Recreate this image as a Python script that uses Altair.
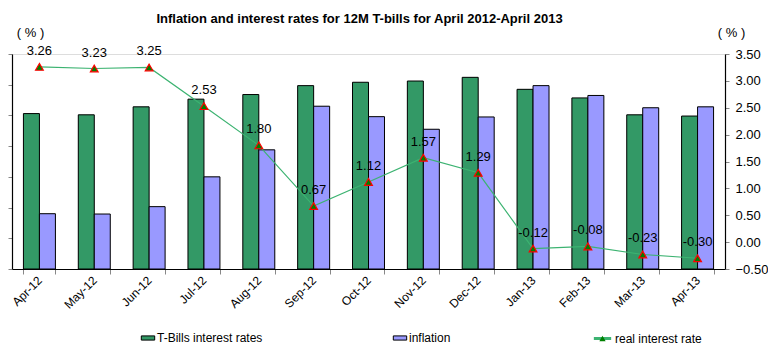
import altair as alt
import pandas as pd

months = ["Apr-12", "May-12", "Jun-12", "Jul-12", "Aug-12", "Sep-12", "Oct-12",
          "Nov-12", "Dec-12", "Jan-13", "Feb-13", "Mar-13", "Apr-13"]
tbills = [5.06, 5.02, 5.28, 5.53, 5.68, 5.97, 6.08, 6.12, 6.24, 5.85, 5.57, 5.02, 4.98]
inflation = [1.80, 1.79, 2.03, 3.00, 3.88, 5.30, 4.96, 4.55, 4.95, 5.97, 5.65, 5.25, 5.28]
real_rate = [3.26, 3.23, 3.25, 2.53, 1.80, 0.67, 1.12, 1.57, 1.29, -0.12, -0.08, -0.23, -0.30]
real_labels = ["3.26", "3.23", "3.25", "2.53", "1.80", "0.67", "1.12", "1.57", "1.29",
               "-0.12", "-0.08", "-0.23", "-0.30"]
right_ticks = [-0.5, 0, 0.5, 1, 1.5, 2, 2.5, 3, 3.5]

S1 = "T-Bills interest rates"
S2 = "inflation"
S3 = "real interest rate"
S4 = " "

bars_df = pd.DataFrame(
    [{"month": m, "series": S1, "value": v} for m, v in zip(months, tbills)]
    + [{"month": m, "series": S2, "value": v} for m, v in zip(months, inflation)]
)
line_df = pd.DataFrame({"month": months, "real": real_rate, "label": real_labels,
                        "series": S3, "series2": S4})

FONT = "Liberation Sans"
p = 0.417

x_enc = alt.X(
    "month:N", sort=months, title=None,
    scale=alt.Scale(paddingInner=p, paddingOuter=p / 2),
    axis=alt.Axis(labelAngle=-45, labelAlign="right", labelBaseline="middle",
                  labelFontSize=12, labelFont=FONT, labelColor="black",
                  labelPadding=4, tickBand="extent", tickSize=5,
                  tickColor="#888", domainColor="black", domainWidth=1.2),
)

y_left = alt.Y(
    "value:Q",
    scale=alt.Scale(domain=[0, 7], nice=False, zero=True),
    axis=alt.Axis(values=[0, 1, 2, 3, 4, 5, 6, 7], labelOpacity=0, tickSize=4,
                  tickColor="#888", domainColor="black", domainWidth=1.2,
                  grid=False, title="( % )", titleAngle=0, titleFont=FONT,
                  titleFontSize=13, titleFontWeight="normal", titleX=18, titleY=-15,
                  titleAlign="center"),
)

shadow = alt.Chart(bars_df).mark_bar(color="#7f7f7f", opacity=0.7, xOffset=2).encode(
    x=x_enc,
    xOffset=alt.XOffset("series:N", sort=[S1, S2]),
    y=y_left,
)

bars = alt.Chart(bars_df).mark_bar(stroke="black", strokeWidth=1).encode(
    x=x_enc,
    xOffset=alt.XOffset("series:N", sort=[S1, S2]),
    y=y_left,
    fill=alt.Fill(
        "series:N", sort=[S1, S2],
        scale=alt.Scale(domain=[S1, S2], range=["#339966", "#9999ff"]),
        legend=alt.Legend(
            title=None, orient="none", legendX=130, legendY=278, direction="horizontal",
            columnPadding=128, labelFont=FONT, labelFontSize=12, labelColor="black",
            symbolType="M-1.6,-0.5H1.6V0.5H-1.6Z", symbolSize=70,
            symbolStrokeColor="black", symbolStrokeWidth=1, labelOffset=3,
        ),
    ),
)

y_scale_r = alt.Scale(domain=[-0.5, 3.5], nice=False, zero=False)
y_axis_r = alt.Axis(orient="right", values=right_ticks, tickCount=9,
                    format=".2f", labelFont=FONT, labelFontSize=13, labelColor="black",
                    labelOverlap=False, labelBound=False, labelFlush=False,
                    tickSize=4, tickColor="#888", labelPadding=6, domainColor="black",
                    domainWidth=1.2, grid=False, title="( % )", titleAngle=0,
                    titleFont=FONT, titleFontSize=13, titleFontWeight="normal",
                    titleX=6, titleY=-15, titleAlign="center")

def y_right():
    return alt.Y("real:Q", scale=y_scale_r, axis=y_axis_r)

line = alt.Chart(line_df).mark_line(strokeWidth=1.2).encode(
    x=alt.X("month:N", sort=months),
    y=y_right(),
    stroke=alt.Stroke(
        "series:N",
        scale=alt.Scale(domain=[S3], range=["#3cb371"]),
        legend=alt.Legend(
            title=None, orient="none", legendX=580, legendY=274,
            labelFont=FONT, labelFontSize=12, labelColor="black",
            symbolType="stroke", symbolStrokeWidth=3, symbolSize=300,
            symbolStrokeColor="#9fd8b8", labelOffset=2,
        ),
    ),
)

pts = alt.Chart(line_df).mark_point(filled=True, fill="#008000", stroke="red",
                                    strokeWidth=1.2, opacity=1, size=60).encode(
    x=alt.X("month:N", sort=months),
    y=y_right(),
    shape=alt.Shape(
        "series2:N",
        scale=alt.Scale(domain=[S4], range=["triangle-up"]),
        legend=alt.Legend(
            title=None, orient="none", legendX=585.5, legendY=279.5, labelOpacity=0,
            labelLimit=1, symbolFillColor="#008000", symbolStrokeColor="red",
            symbolStrokeWidth=1, symbolSize=40,
        ),
    ),
)

labels = alt.Chart(line_df).mark_text(dy=-16, font=FONT, fontSize=13, color="black").encode(
    x=alt.X("month:N", sort=months),
    y=y_right(),
    text="label:N",
)

right = alt.layer(line, pts, labels)

chart = alt.layer(alt.layer(shadow, bars), right).resolve_scale(
    y="independent", fill="independent", stroke="independent", shape="independent"
).properties(
    width=713, height=215,
    title=alt.TitleParams(
        "Inflation and interest rates for 12M T-bills for April 2012-April 2013",
        font=FONT, fontSize=13, fontWeight="bold", anchor="middle", dx=-9, offset=0,
        color="black",
    ),
    autosize=alt.AutoSizeParams(type="none"),
    padding={"left": 12, "top": 54, "right": 43, "bottom": 78},
).configure_view(stroke=None).configure(background="white")

chart.save("out.html", embed_options={"renderer": "svg", "actions": False})
